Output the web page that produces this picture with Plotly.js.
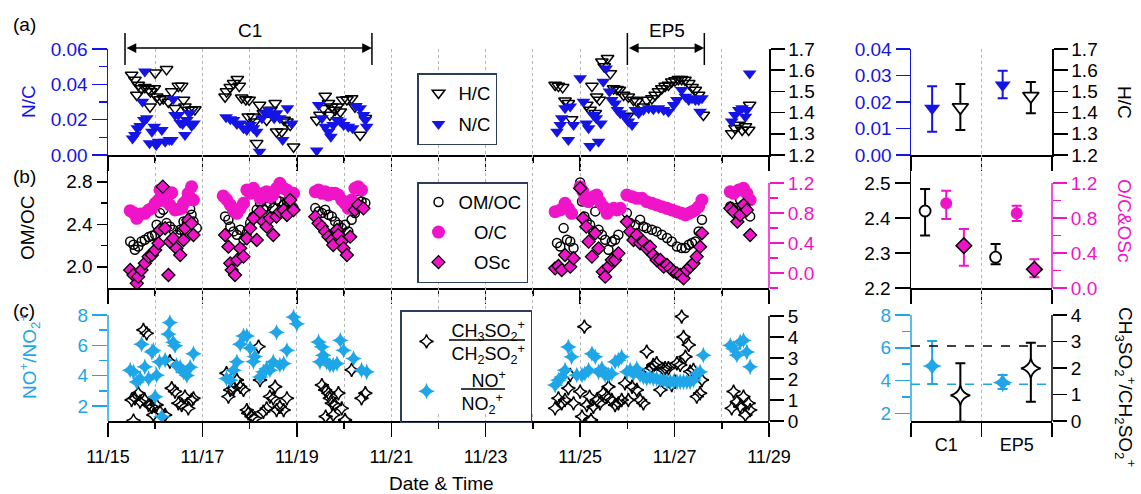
<!DOCTYPE html>
<html><head><meta charset="utf-8">
<script src="https://cdn.plot.ly/plotly-3.0.1.min.js"></script>
<style>html,body{margin:0;padding:0;background:#fff;}#chart{width:1141px;height:494px;}</style>
</head><body><div id="chart"></div>
<script>
// ---------------- DATA ----------------
// time axis: decimal day of November
const dayTicks = [15,17,19,21,23,25,27,29];
const dayTickLabels = ['11/15','11/17','11/19','11/21','11/23','11/25','11/27','11/29'];
const minorDays = [16,18,20,22,24,26,28];

const tHC = [15.50,15.57,15.61,15.64,15.71,15.78,15.86,15.89,15.90,15.98,16.00,16.03,16.10,16.17,16.24,16.28,16.35,16.42,16.49,16.56,16.60,16.63,16.70,16.77,16.84,
17.48,17.51,17.59,17.66,17.74,17.78,17.83,17.92,17.97,17.99,18.07,18.11,18.15,18.21,18.29,18.36,18.45,18.54,18.57,18.68,18.73,18.79,18.86,18.93,
19.42,19.49,19.56,19.60,19.67,19.70,19.74,19.81,19.86,19.92,19.97,20.06,20.16,20.23,20.34,20.45,
24.47,24.54,24.63,24.68,24.75,24.82,25.14,25.21,25.25,25.32,25.35,25.41,25.46,25.51,25.58,25.64,25.71,
25.78,25.83,25.92,26.00,26.02,26.13,26.20,26.34,26.41,26.52,26.59,26.66,26.73,26.80,26.87,26.94,27.01,27.08,27.15,27.22,27.30,27.37,27.44,27.51,27.61,
28.21,28.28,28.36,28.43,28.50,28.57,28.59];
const HC = [1.577,1.554,1.483,1.530,1.514,1.520,1.510,1.428,1.499,1.514,1.588,1.475,1.462,1.467,1.604,1.450,1.499,1.420,1.525,1.525,1.460,1.428,1.412,1.412,1.415,
1.475,1.499,1.519,1.538,1.557,1.525,1.470,1.462,1.381,1.460,1.380,1.357,1.255,1.436,1.397,1.365,1.412,1.444,1.310,1.310,1.365,1.357,1.341,1.239,
1.365,1.389,1.420,1.478,1.444,1.389,1.428,1.412,1.428,1.404,1.460,1.462,1.467,1.428,1.294,1.373,
1.530,1.525,1.519,1.456,1.444,1.368,1.436,1.412,1.525,1.397,1.475,1.460,1.640,1.617,1.656,1.585,1.514,
1.510,1.507,1.483,1.384,1.475,1.459,1.452,1.428,1.459,1.467,1.483,1.499,1.514,1.525,1.530,1.546,1.551,1.557,1.557,1.554,1.538,1.519,1.507,1.483,1.389,
1.302,1.326,1.341,1.318,1.334,1.318,1.436];

const tNC = [15.52,15.57,15.62,15.68,15.73,15.76,15.78,15.82,15.88,15.93,15.98,16.02,16.07,16.14,16.21,16.30,16.35,16.38,16.42,16.49,16.53,16.58,16.63,16.67,16.72,16.77,16.82,
17.50,17.59,17.66,17.73,17.80,17.87,17.94,18.01,18.08,18.15,18.21,18.26,18.33,18.40,18.47,18.52,18.57,18.64,18.70,18.80,18.89,
19.42,19.46,19.53,19.60,19.67,19.72,19.77,19.85,19.92,19.99,20.09,20.18,20.25,20.34,20.41,20.45,20.48,
24.51,24.58,24.61,24.68,24.75,24.79,24.86,25.00,25.07,25.13,25.18,25.21,25.28,25.34,25.39,25.44,25.49,25.55,25.62,25.67,25.74,25.79,
25.85,25.95,26.02,26.10,26.17,26.24,26.34,26.45,26.55,26.66,26.77,26.87,26.98,27.05,27.15,27.23,27.30,27.37,27.44,27.51,27.54,27.58,
28.21,28.28,28.36,28.43,28.50,28.53,28.59];
const NC = [0.0094,0.0113,0.0151,0.0164,0.0302,0.0198,0.0472,0.0208,0.0066,0.0132,0.0160,0.0057,0.0075,0.0142,0.0075,0.0085,0.0085,0.0315,0.0226,0.0226,0.0183,0.0175,0.0113,0.0198,0.0236,0.0164,0.0179,
0.0213,0.0202,0.0198,0.0175,0.0179,0.0151,0.0142,0.0170,0.0151,0.0132,0.0019,0.0208,0.0236,0.0255,0.0226,0.0208,0.0236,0.0208,0.0085,0.0264,0.0179,
0.0025,0.0283,0.0208,0.0160,0.0132,0.0104,0.0170,0.0198,0.0189,0.0170,0.0160,0.0151,0.0277,0.0264,0.0226,0.0198,0.0160,
0.0132,0.0170,0.0208,0.0264,0.0085,0.0274,0.0170,0.0434,0.0302,0.0179,0.0151,0.0051,0.0226,0.0208,0.0075,0.0179,0.0415,0.0490,0.0359,0.0311,0.0292,0.0255,
0.0236,0.0217,0.0189,0.0170,0.0255,0.0236,0.0255,0.0264,0.0259,0.0264,0.0255,0.0245,0.0283,0.0311,0.0368,0.0330,0.0311,0.0321,0.0311,0.0311,0.0245,0.0321,
0.0189,0.0226,0.0255,0.0264,0.0217,0.0255,0.0462];

const tOC = [15.47,15.54,15.61,15.68,15.78,15.86,15.93,16.00,16.07,16.10,16.17,16.24,16.31,16.35,16.42,16.49,16.56,16.60,16.67,16.70,16.77,16.81,
17.44,17.51,17.59,17.66,17.73,17.80,17.87,17.94,18.01,18.08,18.15,18.22,18.29,18.36,18.43,18.50,18.57,18.64,18.72,18.79,18.86,18.93,
19.39,19.46,19.53,19.60,19.67,19.74,19.81,19.88,19.95,20.02,20.09,20.16,20.23,20.30,20.37,
24.47,24.58,24.68,24.75,24.82,25.00,25.06,25.10,25.18,25.28,25.35,25.42,25.49,25.57,25.64,25.71,25.78,25.85,
25.99,26.10,26.20,26.31,26.41,26.52,26.62,26.73,26.84,26.94,27.05,27.15,27.23,27.30,27.37,27.44,27.51,27.58,
28.18,28.25,28.36,28.46,28.53,28.60];
const OC = [0.831,0.804,0.729,0.787,0.796,0.840,0.862,0.929,0.973,1.107,1.062,0.951,0.907,1.071,0.840,0.849,0.862,0.929,0.973,1.062,1.151,0.973,
1.027,0.982,0.907,0.831,0.796,0.862,0.929,1.107,1.062,1.129,1.062,0.996,1.062,1.084,1.018,1.040,1.129,1.196,1.129,1.107,1.040,1.062,
1.084,1.107,1.062,1.084,1.040,1.062,1.062,1.040,0.973,0.929,0.862,0.973,1.129,1.151,1.107,
0.818,0.840,0.929,0.862,0.796,1.151,1.084,0.973,0.951,1.018,1.040,0.951,0.884,0.796,0.840,0.862,0.840,0.862,
1.040,1.018,0.996,0.996,0.951,0.929,0.907,0.884,0.862,0.840,0.818,0.796,0.773,0.796,0.818,0.840,0.884,0.973,
1.084,1.062,1.107,1.129,1.062,0.973];

const tOMOC = [15.47,15.54,15.57,15.64,15.71,15.78,15.86,15.93,16.00,16.03,16.10,16.17,16.24,16.31,16.38,16.45,16.53,16.60,16.67,16.74,16.77,16.81,16.88,
17.48,17.55,17.59,17.66,17.73,17.80,17.87,17.94,18.01,18.08,18.15,18.22,18.29,18.36,18.43,18.50,18.57,18.64,18.72,18.79,18.86,18.93,
19.39,19.46,19.53,19.60,19.67,19.74,19.81,19.88,19.95,20.02,20.09,20.16,20.23,20.30,20.37,20.45,
24.51,24.58,24.65,24.72,24.79,24.86,25.00,25.04,25.09,25.14,25.21,25.28,25.32,25.39,25.46,25.53,25.60,25.67,25.74,25.81,
25.99,26.06,26.17,26.27,26.34,26.41,26.52,26.62,26.73,26.84,26.94,27.05,27.15,27.23,27.30,27.37,27.44,27.51,27.58,
28.18,28.25,28.32,28.39,28.46,28.53,28.60];
const OMOC = [2.238,2.207,2.160,2.191,2.238,2.254,2.279,2.292,2.301,2.395,2.505,2.536,2.411,2.380,2.348,2.301,2.348,2.427,2.411,2.543,2.489,2.427,2.364,
2.474,2.442,2.380,2.333,2.301,2.348,2.254,2.317,2.411,2.474,2.536,2.599,2.536,2.568,2.599,2.552,2.631,2.615,2.584,2.615,2.599,2.552,
2.552,2.521,2.505,2.536,2.489,2.474,2.427,2.395,2.364,2.395,2.333,2.442,2.505,2.631,2.615,2.599,
2.223,2.191,2.364,2.254,2.238,2.176,2.794,2.615,2.474,2.427,2.395,2.333,2.521,2.348,2.301,2.254,2.160,2.238,2.254,2.301,
2.505,2.411,2.395,2.442,2.380,2.364,2.348,2.333,2.301,2.270,2.238,2.191,2.176,2.176,2.207,2.223,2.238,2.333,2.442,
2.568,2.536,2.552,2.631,2.584,2.536,2.474];

const tOSc = [15.47,15.54,15.61,15.64,15.71,15.78,15.86,15.93,16.00,16.07,16.10,16.16,16.21,16.28,16.31,16.38,16.45,16.53,16.60,16.63,16.70,16.77,16.81,
17.48,17.55,17.59,17.62,17.69,17.74,17.80,17.87,17.94,18.01,18.08,18.15,18.22,18.29,18.36,18.43,18.50,18.57,18.64,18.72,18.79,18.86,18.93,
19.39,19.46,19.53,19.60,19.67,19.74,19.77,19.85,19.88,19.95,19.99,20.06,20.13,20.23,20.30,20.41,
24.47,24.54,24.61,24.68,24.79,24.86,25.00,25.06,25.13,25.18,25.25,25.32,25.39,25.48,25.53,25.60,25.67,25.74,25.81,
25.99,26.06,26.13,26.20,26.27,26.34,26.41,26.48,26.55,26.62,26.70,26.77,26.84,26.91,26.98,27.05,27.12,27.19,27.26,27.33,27.40,27.47,27.54,27.58,
28.18,28.25,28.33,28.39,28.46,28.53,28.60];
const OSc = [0.040,-0.027,-0.138,-0.049,0.040,0.129,0.218,0.240,0.307,0.396,0.573,1.151,0.596,-0.027,0.418,0.462,0.329,0.240,0.440,0.596,0.707,0.662,0.507,
0.507,0.351,0.129,0.040,-0.027,0.173,0.329,0.218,0.462,0.596,0.729,0.440,0.818,0.684,0.618,0.729,0.507,0.751,0.818,0.840,0.773,0.973,0.840,
0.751,0.662,0.618,0.551,0.484,0.440,0.373,0.573,0.507,0.418,0.329,0.240,0.484,0.840,0.907,0.862,
0.062,0.093,0.040,0.240,0.084,0.196,1.129,0.729,0.618,0.418,0.218,0.529,0.329,0.018,-0.049,0.084,0.173,0.173,0.262,
0.684,0.551,0.440,0.507,0.396,0.418,0.329,0.351,0.240,0.173,0.173,0.084,0.107,0.062,0.018,-0.004,-0.027,-0.071,0.040,0.084,0.129,0.218,0.351,0.529,
0.862,0.818,0.684,0.773,0.907,0.840,0.507];

const tNO = [15.47,15.54,15.61,15.68,15.71,15.78,15.86,15.93,15.96,16.00,16.03,16.09,16.14,16.21,16.28,16.31,16.38,16.42,16.45,16.53,16.60,16.67,16.74,16.81,
17.51,17.59,17.66,17.73,17.80,17.87,17.94,18.01,18.08,18.11,18.22,18.29,18.36,18.43,18.50,18.57,18.64,18.72,18.79,18.93,19.00,
19.46,19.49,19.53,19.56,19.63,19.70,19.77,19.85,19.92,19.99,20.20,20.37,20.48,
24.47,24.54,24.61,24.68,24.75,24.82,24.93,25.04,25.10,25.18,25.25,25.32,25.39,25.46,25.53,25.60,25.67,25.74,25.81,25.88,
25.99,26.06,26.13,26.20,26.27,26.34,26.41,26.48,26.55,26.62,26.70,26.77,26.84,26.91,26.98,27.05,27.12,27.19,27.26,27.33,27.40,27.47,27.54,27.61,
28.18,28.25,28.32,28.39,28.46,28.53,28.60];
const NO = [4.36,4.25,3.59,3.81,6.07,4.58,3.81,5.56,5.67,2.61,4.03,4.91,1.30,5.02,6.74,7.50,6.20,5.98,4.67,4.56,4.23,4.01,4.56,5.45,
3.81,3.70,4.36,4.91,6.07,6.62,6.62,5.82,4.93,5.26,3.92,4.25,4.47,4.36,4.91,6.86,4.69,4.80,5.67,7.86,7.42,
6.22,4.91,5.90,5.35,4.91,4.69,4.69,4.80,6.33,5.67,5.13,4.36,4.25,
3.38,3.70,3.92,4.36,5.89,5.24,4.03,4.03,4.14,4.36,5.45,5.24,4.25,4.47,4.03,4.03,4.14,4.91,5.02,5.24,
4.25,4.36,4.14,4.47,4.03,3.92,3.81,3.92,3.81,3.81,3.70,3.70,3.60,3.60,3.60,3.60,3.60,3.60,3.60,3.60,3.70,4.14,4.25,5.35,
6.00,5.78,5.35,6.22,6.33,5.56,4.58];

const tCH = [15.50,15.54,15.57,15.64,15.68,15.75,15.78,15.82,15.86,15.93,15.96,16.03,16.10,16.21,16.31,16.35,16.42,16.49,16.56,16.63,16.70,16.77,16.81,
17.51,17.55,17.59,17.66,17.73,17.80,17.87,17.94,17.97,18.04,18.11,18.19,18.22,18.29,18.36,18.43,18.50,18.54,18.57,18.64,18.72,18.79,
19.53,19.60,19.61,19.67,19.70,19.74,19.77,19.81,19.88,19.95,20.02,20.16,20.37,20.45,
24.47,24.54,24.61,24.68,24.75,24.79,24.86,25.00,25.04,25.09,25.14,25.20,25.23,25.28,25.35,25.42,25.49,25.57,25.60,25.67,25.74,25.81,25.88,25.95,
26.02,26.10,26.20,26.27,26.34,26.41,26.45,26.52,26.55,26.62,26.70,26.77,26.80,26.87,26.94,27.01,27.05,27.12,27.15,27.19,27.23,27.30,27.33,27.40,27.47,27.54,27.58,
28.21,28.25,28.32,28.39,28.46,28.50,28.57,28.60];
const CH = [1.00,0.02,1.08,1.32,0.92,4.33,1.00,4.17,0.76,0.68,0.29,0.76,0.44,0.29,2.83,1.56,1.40,0.84,0.76,1.16,0.60,1.00,1.08,
2.27,1.16,1.48,1.56,1.95,1.63,1.48,0.52,0.37,0.21,0.13,3.54,1.95,0.44,0.60,1.16,1.08,1.63,0.52,0.68,0.52,1.08,
1.71,1.48,0.21,1.32,1.08,0.84,0.29,0.76,1.32,0.60,0.05,2.43,1.08,1.32,
0.60,1.08,0.84,1.00,1.56,2.19,0.84,1.40,0.21,4.49,0.76,1.16,0.05,0.68,1.00,0.84,1.32,1.16,1.63,1.00,0.76,0.84,1.00,1.79,
1.00,1.63,1.48,1.00,0.84,3.30,2.43,2.51,2.67,2.75,1.48,2.43,2.51,2.51,1.71,1.87,2.75,2.67,4.97,4.00,3.06,3.62,2.35,2.43,1.16,1.32,1.95,
0.60,1.40,0.92,0.68,1.16,0.29,0.84,0.52];

// periods (decimal day of November)
const c1Start = 15.36, c1End = 20.59;
const ep5Start = 26.00, ep5End = 27.63;

// period means (right-hand panels)
const categories = ['C1','EP5'];
const meanNC = [0.0176, 0.0264], upNC = [0.0083, 0.0054], dnNC = [0.0088, 0.0050];
const meanHC = [1.425, 1.478],  upHC = [0.110, 0.066],  dnHC = [0.107, 0.081];
const meanOMOC = [2.420, 2.288], upOMOC = [0.063, 0.038], dnOMOC = [0.070, 0.020];
const meanOC = [0.968, 0.853], upOC = [0.144, 0.088], dnOC = [0.179, 0.087];
const meanOSc = [0.484, 0.213], upOSc = [0.190, 0.115], dnOSc = [0.229, 0.091];
const meanNO = [4.89, 3.87], upNO = [1.52, 0.47], dnNO = [1.10, 0.39];
const meanCH = [0.97, 1.99], upCH = [1.21, 0.96], dnCH = [1.00, 1.26];
const refCH = 2.83;   // black dashed reference (right axis)
const refNO = 3.78;   // blue dashed reference (left axis)

// ---------------- STYLE ----------------
const W = 1141, H = 494;
const px = v => v / W, py = v => 1 - v / H;
const BLK = '#000000', BLUE = '#1414E6', MAG = '#F014C8', LBLUE = '#1FA6E8', GRID = '#B5B5B5', LEGB = '#2D3E5C';
const FONT = 'Liberation Sans, Arial, Helvetica, sans-serif';
const FS = 19, FSX = 18, FSL = 18.5;

const L0 = px(108), L1 = px(769), R0 = px(911), R1 = px(1052);
const rowA = [py(155), py(49)], rowB = [py(288), py(155)], rowC = [py(421), py(288)];

const catPos = (off) => categories.map((c, i) => i + 0.5 + off);

function sc(x, y, xa, ya, name, marker, extra) {
  return Object.assign({type:'scatter', mode:'markers', x, y, xaxis:xa, yaxis:ya, name, marker, cliponaxis:true}, extra || {});
}
function eb(up, dn, color) {
  return {type:'data', symmetric:false, array:up, arrayminus:dn, color, thickness:2, width:5};
}

const traces = [
  // left panels
  sc(tHC, HC, 'x', 'y', 'H/C', {symbol:'triangle-down-open', size:11, color:BLK, line:{width:1.5, color:BLK}}, {legend:'legend', legendgroup:'a1'}),
  sc(tNC, NC, 'x', 'y2', 'N/C', {symbol:'triangle-down', size:12, color:BLUE}, {legend:'legend', legendgroup:'a2'}),
  sc(tOMOC, OMOC, 'x2', 'y3', 'OM/OC', {symbol:'circle-open', size:9, color:BLK, line:{width:1.5, color:BLK}}, {legend:'legend2', legendgroup:'b1'}),
  sc(tOC, OC, 'x2', 'y4', '\u00a0\u00a0\u00a0O/C', {symbol:'circle', size:13, color:MAG}, {legend:'legend2', legendgroup:'b2'}),
  sc(tOSc, OSc, 'x2', 'y4', '\u00a0\u00a0\u00a0OSc', {symbol:'diamond', size:10, color:MAG, line:{width:1.3, color:BLK}}, {legend:'legend2', legendgroup:'b3'}),
  sc(tCH, CH, 'x3', 'y5', 'CH<sub>3</sub>SO<sub>2</sub><sup>+</sup><br>CH<sub>2</sub>SO<sub>2</sub><sup>+</sup>',
     {symbol:'star-diamond-open', size:10, color:BLK, line:{width:1.5, color:BLK}}, {legend:'legend3', legendgroup:'c1'}),
  sc(tNO, NO, 'x3', 'y6', '\u00a0\u00a0\u00a0\u00a0NO<sup>+</sup><br>\u00a0\u00a0NO<sub>2</sub><sup>+</sup>',
     {symbol:'star-diamond', size:12, color:LBLUE}, {legend:'legend3', legendgroup:'c2'}),
  // right panels (period means)
  sc(catPos(0.2), meanHC, 'x4', 'y7', 'H/C mean', {symbol:'triangle-down', size:14, color:'white', line:{width:1.8, color:BLK}}, {showlegend:false, error_y:eb(upHC, dnHC, BLK)}),
  sc(catPos(-0.2), meanNC, 'x4', 'y8', 'N/C mean', {symbol:'triangle-down', size:14, color:BLUE}, {showlegend:false, error_y:eb(upNC, dnNC, BLUE)}),
  sc(catPos(-0.3), meanOMOC, 'x5', 'y9', 'OM/OC mean', {symbol:'circle', size:11, color:'white', line:{width:1.8, color:BLK}}, {showlegend:false, error_y:eb(upOMOC, dnOMOC, BLK)}),
  sc(catPos(0), meanOC, 'x5', 'y10', 'O/C mean', {symbol:'circle', size:12, color:MAG}, {showlegend:false, error_y:eb(upOC, dnOC, MAG)}),
  sc(catPos(0.25), meanOSc, 'x5', 'y10', 'OSc mean', {symbol:'diamond', size:12, color:MAG, line:{width:1.5, color:BLK}}, {showlegend:false, error_y:eb(upOSc, dnOSc, MAG)}),
  sc(catPos(0.2), meanCH, 'x6', 'y11', 'CH3SO2/CH2SO2 mean', {symbol:'star-diamond', size:14, color:'white', line:{width:1.8, color:BLK}}, {showlegend:false, error_y:eb(upCH, dnCH, BLK)}),
  sc(catPos(-0.2), meanNO, 'x6', 'y12', 'NO/NO2 mean', {symbol:'star-diamond', size:14, color:LBLUE}, {showlegend:false, error_y:eb(upNO, dnNO, LBLUE)}),
];

function xLeft(anchor, labels) {
  return {
    domain:[L0, L1], range:[15, 29], anchor, fixedrange:true,
    tickmode:'array', tickvals:dayTicks, ticktext:dayTickLabels, showticklabels:labels,
    tickfont:{size:FSX, color:BLK}, ticklabelstandoff:5,
    ticks:'outside', ticklen:14, tickwidth:1.5, tickcolor:BLK,
    showline:true, linecolor:BLK, linewidth:1.5, zeroline:false,
    showgrid:true, gridcolor:GRID, griddash:'dot', gridwidth:1,
    minor:{tickmode:'array', tickvals:minorDays, ticks:'outside', ticklen:6, tickwidth:1.5, tickcolor:BLK,
           showgrid:true, gridcolor:GRID, griddash:'dot', gridwidth:1}
  };
}
function xRight(anchor, labels) {
  return {
    domain:[R0, R1], range:[0, 2], anchor, fixedrange:true,
    tickmode:'array', tickvals:[0.5, 1.5], ticktext:categories, showticklabels:labels,
    tickfont:{size:FSX, color:BLK}, ticks:'', ticklabelstandoff:7,
    showline:true, linecolor:BLK, linewidth:1.5, zeroline:false, showgrid:false,
    minor:{tickmode:'array', tickvals:[0, 1, 2], ticks:'outside', ticklen:14, tickwidth:1.5, tickcolor:BLK,
           showgrid:true, gridcolor:GRID, griddash:'dot', gridwidth:1}
  };
}
function yAx(o) {
  const c = o.color || BLK;
  const base = {
    fixedrange:true, zeroline:false, showgrid:false,
    ticks:'outside', ticklen:14, tickwidth:1.5, tickcolor:c,
    tickfont:{size:FS, color:c}, linecolor:c, linewidth:1.5, showline:true,
    tickmode:'array'
  };
  const r = Object.assign(base, o);
  if (o.minorvals) {
    r.minor = {tickmode:'array', tickvals:o.minorvals, ticks:'outside', ticklen:o.minorlen || 8, tickwidth:1.5, tickcolor:c, showgrid:false};
    delete r.minorvals; delete r.minorlen;
  }
  return r;
}

const legBase = {xanchor:'left', yanchor:'top', bgcolor:'white', bordercolor:LEGB, borderwidth:1.5,
                 traceorder:'grouped', valign:'middle'};

const layout = {
  width:W, height:H, margin:{l:0, r:0, t:0, b:0},
  paper_bgcolor:'white', plot_bgcolor:'rgba(0,0,0,0)',
  font:{family:FONT, size:FS, color:BLK},
  showlegend:true, hovermode:false,
  xaxis: xLeft('y', false),
  xaxis2: Object.assign(xLeft('y3', false), {matches:'x'}),
  xaxis3: Object.assign(xLeft('y5', true), {matches:'x'}),
  xaxis4: xRight('y7', false),
  xaxis5: Object.assign(xRight('y9', false), {matches:'x4'}),
  xaxis6: Object.assign(xRight('y11', true), {matches:'x4'}),
  // row a, left
  yaxis: yAx({domain:rowA, anchor:'x', side:'right', range:[1.2, 1.7], tickvals:[1.2,1.3,1.4,1.5,1.6,1.7], tickformat:'.1f'}),
  yaxis2: yAx({overlaying:'y', anchor:'x', side:'left', range:[0, 0.06], tickvals:[0,0.02,0.04,0.06], tickformat:'.2f', color:BLUE, ticklen:15, minorvals:[0.01,0.03,0.05]}),
  // row b, left
  yaxis3: yAx({domain:rowB, anchor:'x2', side:'left', range:[1.8, 3.052], tickvals:[2.0,2.4,2.8], tickformat:'.1f', ticklen:10, minorvals:[2.2,2.6], minorlen:6}),
  yaxis4: yAx({overlaying:'y3', anchor:'x2', side:'right', range:[-0.2, 1.573], tickvals:[0,0.4,0.8,1.2], tickformat:'.1f', color:MAG, showline:false, minorvals:[-0.2,0.2,0.6,1.0]}),
  // row c, left
  yaxis5: yAx({domain:rowC, anchor:'x3', side:'right', range:[0, 6.33], tickvals:[0,1,2,3,4,5], showline:false}),
  yaxis6: yAx({overlaying:'y5', anchor:'x3', side:'left', range:[1.011, 9.78], tickvals:[2,4,6,8], color:LBLUE, ticklen:15, showline:false, minorvals:[3,5,7]}),
  // row a, right
  yaxis7: yAx({domain:rowA, anchor:'x4', side:'right', range:[1.2, 1.7], tickvals:[1.2,1.3,1.4,1.5,1.6,1.7], tickformat:'.1f'}),
  yaxis8: yAx({overlaying:'y7', anchor:'x4', side:'left', range:[0, 0.04], tickvals:[0,0.01,0.02,0.03,0.04], tickformat:'.2f', color:BLUE}),
  // row b, right
  yaxis9: yAx({domain:rowB, anchor:'x5', side:'left', range:[2.2, 2.58], tickvals:[2.2,2.3,2.4,2.5], tickformat:'.1f', ticklen:15}),
  yaxis10: yAx({overlaying:'y9', anchor:'x5', side:'right', range:[0, 1.52], tickvals:[0,0.4,0.8,1.2], tickformat:'.1f', color:MAG, showline:false, minorvals:[0.2,0.6,1.0]}),
  // row c, right
  yaxis11: yAx({domain:rowC, anchor:'x6', side:'right', range:[0, 5.02], tickvals:[0,1,2,3,4], showline:false}),
  yaxis12: yAx({overlaying:'y11', anchor:'x6', side:'left', range:[1.53, 9.65], tickvals:[2,4,6,8], color:LBLUE, ticklen:15, showline:false, minorvals:[3,5,7]}),

  legend: Object.assign({x:px(417), y:py(73), font:{size:FSL}, tracegroupgap:4, itemwidth:30}, legBase),
  legend2: Object.assign({x:px(417), y:py(182), font:{size:FSL}, tracegroupgap:3, itemwidth:30}, legBase),
  // legend (c) is transparent: a white box and the fraction bars are drawn underneath it as shapes
  legend3: Object.assign({}, legBase, {x:px(400), y:py(310), font:{size:18}, tracegroupgap:0, itemwidth:40, bgcolor:'rgba(0,0,0,0)'}),

  shapes: [
    // partial axis lines
    {type:'line', xref:'paper', yref:'y4', x0:L1, x1:L1, y0:-0.2, y1:1.2, line:{color:MAG, width:1.5}, layer:'above'},
    {type:'line', xref:'paper', yref:'y6', x0:L0, x1:L0, y0:1.011, y1:8, line:{color:LBLUE, width:1.5}, layer:'above'},
    {type:'line', xref:'paper', yref:'y5', x0:L1, x1:L1, y0:0, y1:5, line:{color:BLK, width:1.5}, layer:'above'},
    {type:'line', xref:'paper', yref:'y10', x0:R1, x1:R1, y0:0, y1:1.2, line:{color:MAG, width:1.5}, layer:'above'},
    {type:'line', xref:'paper', yref:'y12', x0:R0, x1:R0, y0:1.53, y1:8, line:{color:LBLUE, width:1.5}, layer:'above'},
    {type:'line', xref:'paper', yref:'y11', x0:R1, x1:R1, y0:0, y1:4, line:{color:BLK, width:1.5}, layer:'above'},
    // reference dashed lines
    {type:'line', xref:'x6', yref:'y11', x0:0, x1:2, y0:refCH, y1:refCH, line:{color:BLK, width:1.5, dash:'dash'}},
    {type:'line', xref:'x6', yref:'y12', x0:0, x1:2, y0:refNO, y1:refNO, line:{color:LBLUE, width:1.5, dash:'dash'}},
    // period brackets
    {type:'line', xref:'x', yref:'paper', x0:c1Start, x1:c1Start, y0:py(65), y1:py(33), line:{color:BLK, width:1.5}},
    {type:'line', xref:'x', yref:'paper', x0:c1End, x1:c1End, y0:py(65), y1:py(33), line:{color:BLK, width:1.5}},
    {type:'line', xref:'x', yref:'paper', x0:ep5Start, x1:ep5Start, y0:py(65), y1:py(33), line:{color:BLK, width:1.5}},
    {type:'line', xref:'x', yref:'paper', x0:ep5End, x1:ep5End, y0:py(65), y1:py(33), line:{color:BLK, width:1.5}},
    // background of legend (c) and its fraction bars
    {type:'rect', xref:'paper', yref:'paper', x0:px(401), x1:px(541), y0:py(414), y1:py(311), fillcolor:'white', line:{width:0}, layer:'above'},
    {type:'line', xref:'paper', yref:'paper', x0:px(449), x1:px(525), y0:py(340), y1:py(340), line:{color:BLK, width:1.3}, layer:'above'},
    {type:'line', xref:'paper', yref:'paper', x0:px(461), x1:px(505), y0:py(389), y1:py(389), line:{color:BLK, width:1.3}, layer:'above'},
  ],
  annotations: []
};

function ann(text, x, y, o) {
  return Object.assign({text, x:px(x), y:py(y), xref:'paper', yref:'paper', showarrow:false,
    xanchor:'center', yanchor:'middle', font:{size:FS, color:BLK, family:FONT}}, o || {});
}
layout.annotations.push(
  ann('(a)', 11, 25, {xanchor:'left'}),
  ann('(b)', 11, 176, {xanchor:'left'}),
  ann('(c)', 11, 310, {xanchor:'left'}),
  ann('N/C', 28, 102, {textangle:-90, font:{size:FS, color:BLUE, family:FONT}}),
  ann('OM/OC', 27, 228, {textangle:-90}),
  ann('NO<sup>+</sup>/NO<sub>2</sub><sup>+</sup>', 29, 357, {textangle:-90, font:{size:FS, color:LBLUE, family:FONT}}),
  ann('H/C', 1125, 102, {textangle:90}),
  ann('O/C&amp;OSc', 1125, 220, {textangle:90, font:{size:FS, color:MAG, family:FONT}}),
  ann('CH<sub>3</sub>SO<sub>2</sub><sup>+</sup>/CH<sub>2</sub>SO<sub>2</sub><sup>+</sup>', 1126, 387, {textangle:90}),
  ann('C1', 250, 31),
  ann('EP5', 667, 30),
  ann('Date &amp; Time', 441, 483),
  // double-headed period arrows
  {x:c1End, y:py(48), xref:'x', yref:'paper', ax:c1Start, axref:'x', ay:0, ayref:'pixel', text:'', showarrow:true,
   arrowside:'end+start', arrowhead:2, arrowsize:1.3, arrowwidth:1.5, arrowcolor:BLK, standoff:0, startstandoff:0},
  {x:ep5End, y:py(48), xref:'x', yref:'paper', ax:ep5Start, axref:'x', ay:0, ayref:'pixel', text:'', showarrow:true,
   arrowside:'end+start', arrowhead:2, arrowsize:1.3, arrowwidth:1.5, arrowcolor:BLK, standoff:0, startstandoff:0}
);

Plotly.newPlot('chart', traces, layout, {displayModeBar:false, staticPlot:true});
</script>
</body></html>
